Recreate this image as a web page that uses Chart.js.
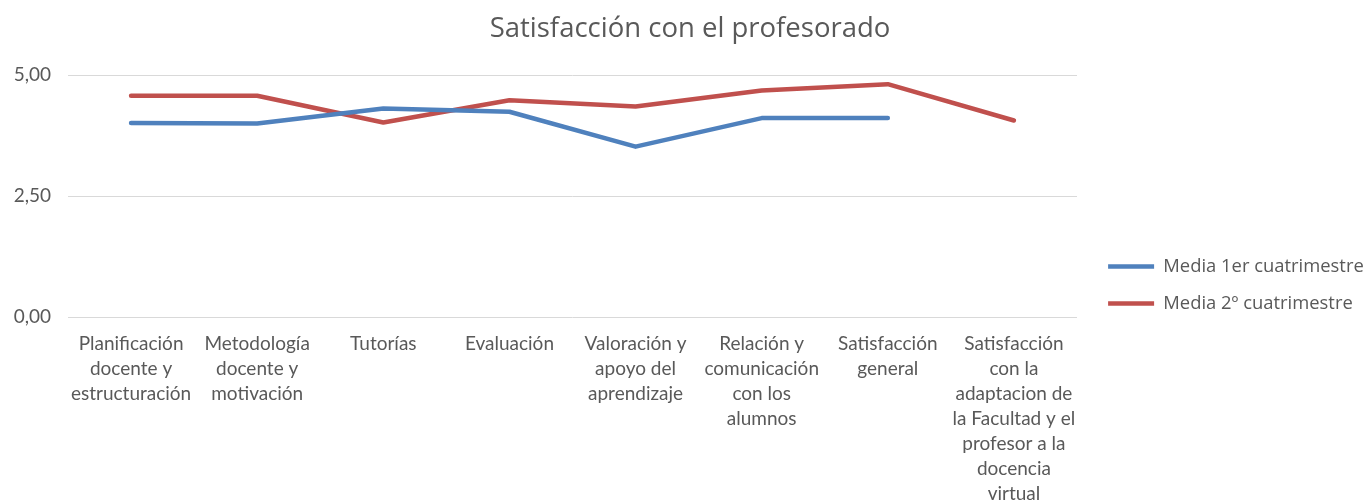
<!DOCTYPE html>
<html>
<head>
<meta charset="utf-8">
<script src="https://cdn.jsdelivr.net/npm/chart.js@4.4.0/dist/chart.umd.min.js"></script>
<style>
html,body{margin:0;padding:0;background:#fff;}
#wrap{width:1366px;height:504px;position:relative;}
</style>
</head>
<body>
<div id="wrap"><canvas id="c" width="1366" height="504"></canvas></div>
<script>
const categories = [
  ["Planificación", "docente y", "estructuración"],
  ["Metodología", "docente y", "motivación"],
  ["Tutorías"],
  ["Evaluación"],
  ["Valoración y", "apoyo del", "aprendizaje"],
  ["Relación y", "comunicación", "con los", "alumnos"],
  ["Satisfacción", "general"],
  ["Satisfacción", "con la", "adaptacion de", "la Facultad y el", "profesor a la", "docencia", "virtual"]
];
const serie1 = [4.01, 4.00, 4.31, 4.24, 3.52, 4.11, 4.11, null];
const serie2 = [4.57, 4.57, 4.02, 4.48, 4.35, 4.68, 4.81, 4.06];
const seriesNames = ["Media 1er cuatrimestre", "Media 2º cuatrimestre"];
const yTicks = [0, 2.5, 5];

const LATO = "Lato, sans-serif";
const OPEN = "'Open Sans', sans-serif";
const TXT = "#595959";

const layoutTweak = {
  id: 'layoutTweak',
  afterInit(chart) {
    const l = chart.legend;
    if (l && !l._patched) {
      const orig = l.fit.bind(l);
      l.fit = function () { orig(); this.width = 289; };
      l._patched = true;
    }
  },
  afterLayout(chart) {
    const l = chart.legend;
    if (l) { const w = l.right - l.left; l.left = 1089.5; l.right = 1089.5 + w; l.top += 33; l.bottom += 33; }
    const t = chart.titleBlock;
    if (t) { t.left += 7; t.right += 7; }
  }
};

new Chart(document.getElementById('c'), {
  type: 'line',
  data: {
    labels: categories,
    datasets: [
      { label: seriesNames[0], data: serie1, borderColor: '#4f81bd', backgroundColor: '#4f81bd',
        borderWidth: 4.5, pointRadius: 0, borderCapStyle: 'round', borderJoinStyle: 'round', tension: 0 },
      { label: seriesNames[1], data: serie2, borderColor: '#c0504d', backgroundColor: '#c0504d',
        borderWidth: 4.5, pointRadius: 0, borderCapStyle: 'round', borderJoinStyle: 'round', tension: 0 }
    ]
  },
  options: {
    responsive: false,
    animation: false,
    layout: { padding: 0 },
    plugins: {
      title: {
        display: true, text: 'Satisfacción con el profesorado', color: TXT,
        font: { family: OPEN, size: 27.5, weight: 'normal', lineHeight: 1.2 },
        padding: { top: 13, bottom: 29 }
      },
      legend: {
        position: 'right',
        labels: {
          color: TXT, font: { family: OPEN, size: 18.4 },
          usePointStyle: true, pointStyle: 'line', pointStyleWidth: 46, padding: 18.6
        }
      },
      tooltip: { enabled: false }
    },
    scales: {
      x: {
        offset: true,
        grid: { display: false, drawTicks: false },
        border: { display: false },
        ticks: { color: TXT, font: { family: LATO, size: 19, lineHeight: 25/19 },
                 maxRotation: 0, autoSkip: false, padding: 14 },
        afterFit(s) { s.height = 187; }
      },
      y: {
        min: 0, max: 5,
        afterBuildTicks(s) { s.ticks = yTicks.map(v => ({ value: v })); },
        grid: { color: '#d9d9d9', lineWidth: 1, drawTicks: false },
        border: { display: false },
        ticks: { color: TXT, font: { family: LATO, size: 19 }, padding: 17,
                 callback: v => v.toFixed(2).replace('.', ',') },
        afterFit(s) { s.width = 68; }
      }
    }
  },
  plugins: [layoutTweak]
});
</script>
</body>
</html>
